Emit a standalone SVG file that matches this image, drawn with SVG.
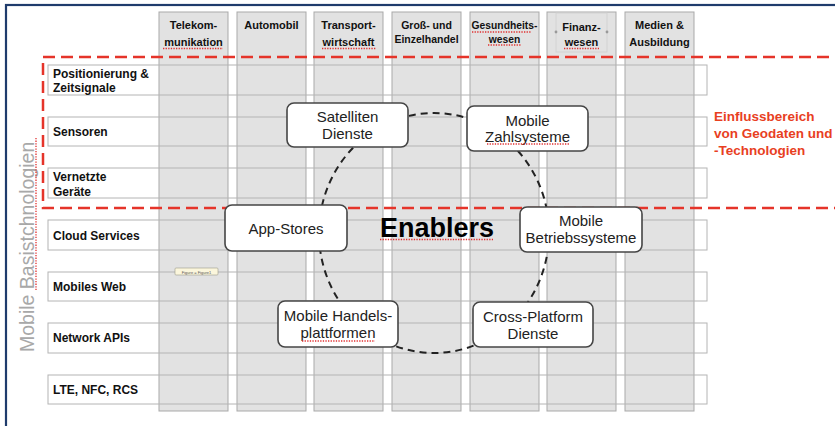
<svg xmlns="http://www.w3.org/2000/svg" width="835" height="426" viewBox="0 0 835 426">
<defs>
<style>
.row{fill:#fff;stroke:none}
.rowline{fill:none;stroke:#b4b4b4;stroke-width:1}
.col{fill:#e2e2e2;stroke:#a9a9a9;stroke-width:1}
.hdr{font-family:"Liberation Sans",Arial,sans-serif;font-weight:bold;font-size:11px;fill:#111;text-anchor:middle}
.lbl{font-family:"Liberation Sans",Arial,sans-serif;font-weight:bold;font-size:12px;fill:#111}
.node rect{fill:#fff;stroke:#454545;stroke-width:1.6}
.node text{font-family:"Liberation Sans",Arial,sans-serif;font-size:15px;fill:#222;text-anchor:middle}
.spell{stroke:#e03030;stroke-width:1.3;stroke-dasharray:1.3 1.3;fill:none}
.red{font-family:"Liberation Sans",Arial,sans-serif;font-weight:bold;font-size:13.5px;fill:#e8401f}
</style>
</defs>
<rect x="0" y="0" width="835" height="426" fill="#fff"/>
<rect x="6" y="5" width="840" height="440" fill="none" stroke="#1f3c6c" stroke-width="2.2"/>

<g id="rows-bg">
<rect class="row" x="48" y="65" width="659" height="30"/>
<rect class="row" x="48" y="117" width="659" height="29"/>
<rect class="row" x="48" y="168" width="659" height="30"/>
<rect class="row" x="48" y="220" width="659" height="30"/>
<rect class="row" x="48" y="272" width="659" height="29"/>
<rect class="row" x="48" y="323" width="659" height="30"/>
<rect class="row" x="48" y="375" width="659" height="29"/>
</g>

<g id="columns">
<rect class="col" x="159" y="12" width="69" height="399"/>
<rect class="col" x="237" y="12" width="69" height="399"/>
<rect class="col" x="314" y="12" width="69" height="399"/>
<rect class="col" x="392" y="12" width="69" height="399"/>
<rect class="col" x="470" y="12" width="69" height="399"/>
<rect class="col" x="547" y="12" width="69" height="399"/>
<rect class="col" x="625" y="12" width="69" height="399"/>
</g>

<g id="rows-outline">
<rect class="rowline" x="48" y="65" width="659" height="30"/>
<rect class="rowline" x="48" y="117" width="659" height="29"/>
<rect class="rowline" x="48" y="168" width="659" height="30"/>
<rect class="rowline" x="48" y="220" width="659" height="30"/>
<rect class="rowline" x="48" y="272" width="659" height="29"/>
<rect class="rowline" x="48" y="323" width="659" height="30"/>
<rect class="rowline" x="48" y="375" width="659" height="29"/>
</g>

<g id="headers">
<text class="hdr" x="193.5" y="29">Telekom-</text>
<text class="hdr" x="193.5" y="46">munikation</text>
<text class="hdr" x="271.5" y="29">Automobil</text>
<text class="hdr" x="348.5" y="29">Transport-</text>
<text class="hdr" x="348.5" y="46">wirtschaft</text>
<text class="hdr" x="426.5" y="29" style="font-size:10.5px">Groß- und</text>
<text class="hdr" x="426.5" y="43" style="font-size:10.5px">Einzelhandel</text>
<text class="hdr" x="504.5" y="29" style="font-size:10.3px">Gesundheits-</text>
<text class="hdr" x="504.5" y="43" style="font-size:10.3px">wesen</text>
<rect x="556" y="13" width="51" height="39" fill="none" stroke="#cfcfcf" stroke-width="0.8"/>
<circle cx="556" cy="32" r="1.4" fill="#999"/>
<circle cx="607" cy="32" r="1.4" fill="#999"/>
<text class="hdr" x="581.5" y="31">Finanz-</text>
<text class="hdr" x="581.5" y="46">wesen</text>
<text class="hdr" x="659.5" y="29">Medien &amp;</text>
<text class="hdr" x="659.5" y="46">Ausbildung</text>
</g>

<g id="row-labels">
<text class="lbl" x="53" y="78">Positionierung &amp;</text>
<text class="lbl" x="53" y="92">Zeitsignale</text>
<text class="lbl" x="53" y="136">Sensoren</text>
<text class="lbl" x="53" y="181">Vernetzte</text>
<text class="lbl" x="53" y="196">Geräte</text>
<text class="lbl" x="53" y="240">Cloud Services</text>
<text class="lbl" x="53" y="291">Mobiles Web</text>
<text class="lbl" x="53" y="342">Network APIs</text>
<text class="lbl" x="53" y="394">LTE, NFC, RCS</text>
</g>

<g id="side-label">
<text x="34" y="352" transform="rotate(-90 34 352)" font-family="'Liberation Sans',Arial,sans-serif" font-size="19.5px" fill="#a8a8a8">Mobile Basistchnologien</text>
</g>

<g id="influence-area">
<rect x="43" y="57" width="830" height="151" fill="none" stroke="#e5342a" stroke-width="2.5" stroke-dasharray="12 6"/>
<text class="red" x="714" y="121">Einflussbereich</text>
<text class="red" x="714" y="138">von Geodaten und</text>
<text class="red" x="714" y="155">-Technologien</text>
</g>

<g id="connectors">
<ellipse cx="434" cy="233" rx="115" ry="120" fill="none" stroke="#222" stroke-width="2" stroke-dasharray="7 5"/>
</g>

<g id="enablers">
<text x="380" y="237" font-family="'Liberation Sans',Arial,sans-serif" font-weight="bold" font-size="27px" fill="#000">Enablers</text>
</g>

<g id="node-satelliten" class="node">
<rect x="287" y="103" width="121" height="44" rx="7"/>
<text x="347.5" y="122">Satelliten</text>
<text x="347.5" y="139">Dienste</text>
</g>
<g id="node-zahlsysteme" class="node">
<rect x="467" y="106" width="121" height="45" rx="7"/>
<text x="527.5" y="126">Mobile</text>
<text x="527.5" y="142">Zahlsysteme</text>
</g>
<g id="node-appstores" class="node">
<rect x="225" y="205" width="122" height="46" rx="7"/>
<text x="286" y="234">App-Stores</text>
</g>
<g id="node-betriebssysteme" class="node">
<rect x="520" y="207" width="122" height="45" rx="7"/>
<text x="581" y="226">Mobile</text>
<text x="581" y="243">Betriebssysteme</text>
</g>
<g id="node-handels" class="node">
<rect x="278" y="301" width="120" height="46" rx="7"/>
<text x="338" y="321">Mobile Handels-</text>
<text x="338" y="338">plattformen</text>
</g>
<g id="node-crossplatform" class="node">
<rect x="473" y="302" width="120" height="45" rx="7"/>
<text x="533" y="322">Cross-Platform</text>
<text x="533" y="339">Dienste</text>
</g>

<g id="figure-tag">
<rect x="175" y="268" width="43" height="7" rx="1" fill="#fbf6dc" stroke="#9a9a8a" stroke-width="0.6"/>
<text x="196.5" y="273.5" font-family="'Liberation Sans',Arial,sans-serif" font-size="4px" fill="#555" text-anchor="middle">Figure = Figure1</text>
</g>

<g id="spellcheck">
<line class="spell" x1="163" y1="48.5" x2="223" y2="48.5"/>
<line class="spell" x1="322" y1="48.5" x2="376" y2="48.5"/>
<line class="spell" x1="472" y1="32" x2="531" y2="32"/>
<line class="spell" x1="488" y1="45" x2="521" y2="45"/>
<line class="spell" x1="564" y1="48.5" x2="599" y2="48.5"/>
<line class="spell" x1="487" y1="144" x2="570" y2="144"/>
<line class="spell" x1="380" y1="239.5" x2="493" y2="239.5"/>
<line class="spell" x1="302" y1="341" x2="375" y2="341"/>
<line class="spell" x1="36" y1="138" x2="36" y2="290"/>
</g>
</svg>
